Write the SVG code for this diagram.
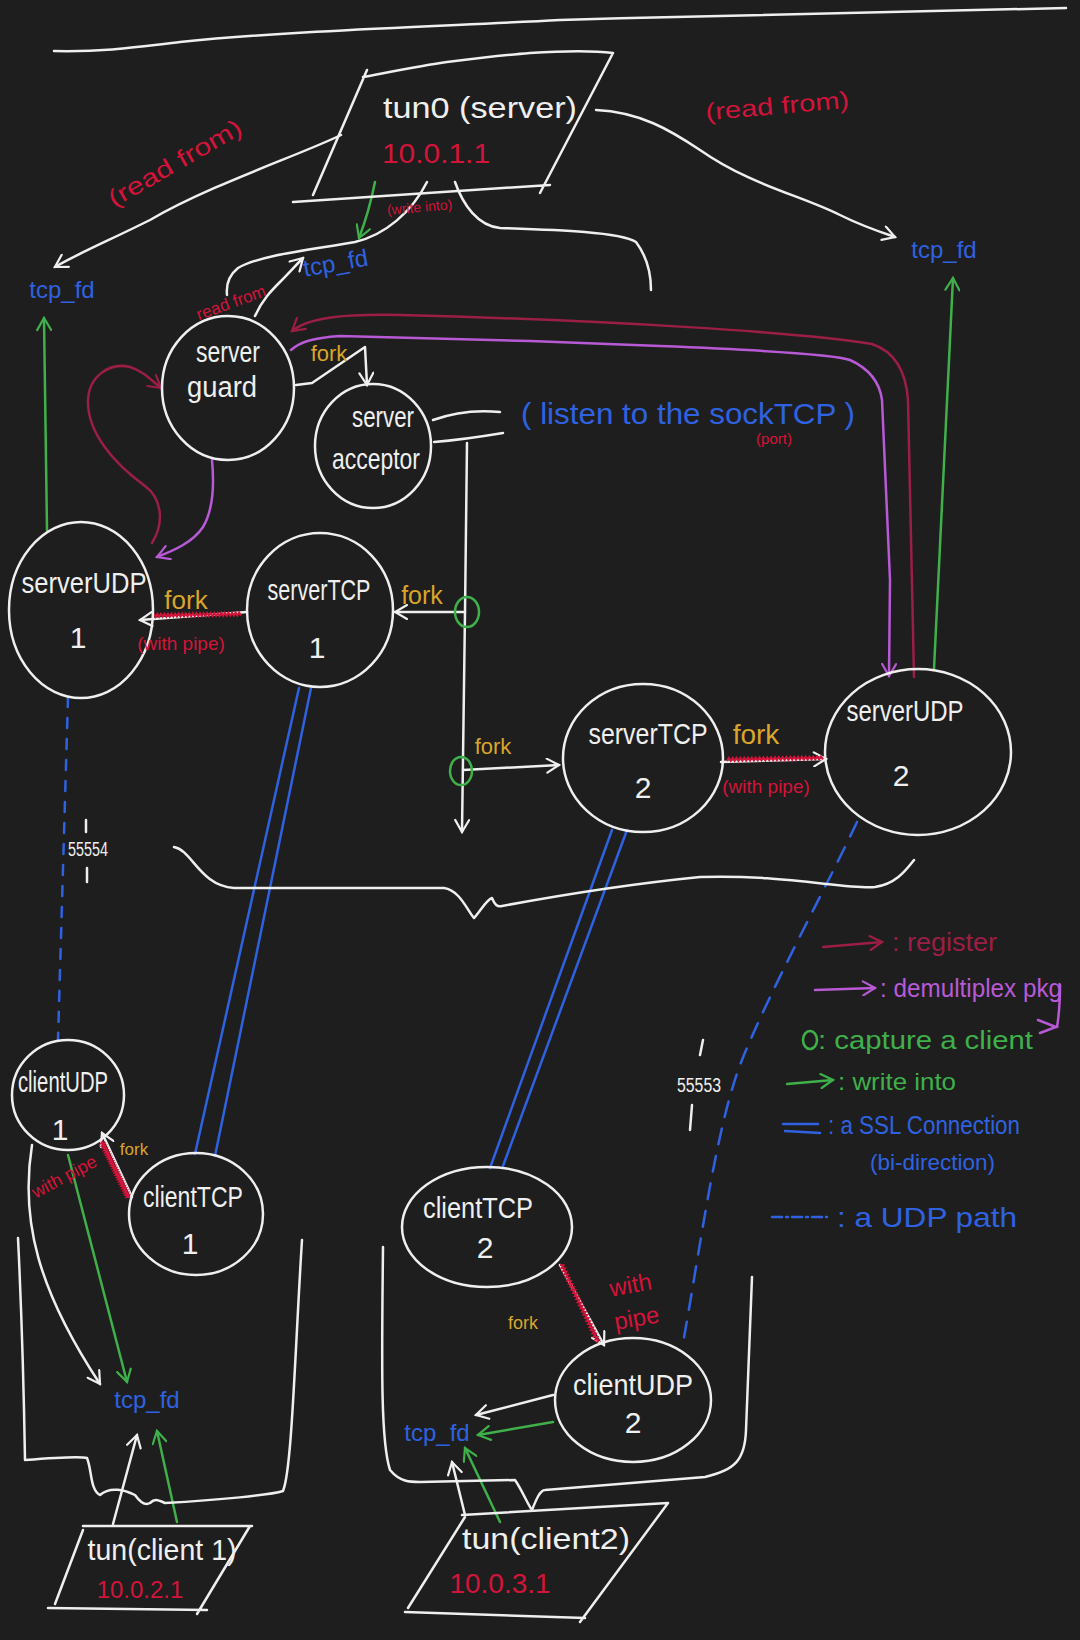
<svg xmlns="http://www.w3.org/2000/svg" width="1080" height="1640" viewBox="0 0 1080 1640">
<style>
.w{fill:none;stroke:#efefef;stroke-width:2.5;stroke-linecap:round;stroke-linejoin:round}
.node{fill:none;stroke:#efefef;stroke-width:2.5}
.t{font-family:"Liberation Sans",Arial,sans-serif}
.lbl{fill:#efefef;font-size:30px;text-anchor:middle}
.c{text-anchor:middle}
.red{fill:#d3143a}
.blue{fill:#2f62e0}
.gold{fill:#d9a52a}
.grn{fill:#3fb04a}
.mar{fill:#9b1e45}
.pur{fill:#b85ad6}
.wt{fill:#efefef}
.gl{fill:none;stroke:#3fb04a;stroke-width:2.5;stroke-linecap:round}
.pl{fill:none;stroke:#b85ad6;stroke-width:2.5;stroke-linecap:round}
.ml{fill:none;stroke:#9b1e45;stroke-width:2.5;stroke-linecap:round}
.bl{fill:none;stroke:#2f62e0;stroke-width:2.5;stroke-linecap:round}
.zz{fill:none;stroke:#d3143a;stroke-width:2;vector-effect:non-scaling-stroke}
</style>
<defs>
<marker id="aw" viewBox="0 0 16 16" refX="14" refY="8" markerWidth="16" markerHeight="16" orient="auto" markerUnits="userSpaceOnUse"><path d="M2,1 L14,8 L2,15" fill="none" stroke="#efefef" stroke-width="2.2" stroke-linecap="round"/></marker>
<marker id="ag" viewBox="0 0 16 16" refX="14" refY="8" markerWidth="16" markerHeight="16" orient="auto" markerUnits="userSpaceOnUse"><path d="M2,1 L14,8 L2,15" fill="none" stroke="#3fb04a" stroke-width="2.2" stroke-linecap="round"/></marker>
<marker id="ap" viewBox="0 0 16 16" refX="14" refY="8" markerWidth="16" markerHeight="16" orient="auto" markerUnits="userSpaceOnUse"><path d="M2,1 L14,8 L2,15" fill="none" stroke="#b85ad6" stroke-width="2.2" stroke-linecap="round"/></marker>
<marker id="am" viewBox="0 0 16 16" refX="14" refY="8" markerWidth="16" markerHeight="16" orient="auto" markerUnits="userSpaceOnUse"><path d="M2,1 L14,8 L2,15" fill="none" stroke="#9b1e45" stroke-width="2.2" stroke-linecap="round"/></marker>
<path id="zz" class="zz" d="M0 0 l2 -3 2 3 2 -3 2 3 2 -3 2 3 2 -3 2 3 2 -3 2 3 2 -3 2 3 2 -3 2 3 2 -3 2 3 2 -3 2 3 2 -3 2 3 2 -3 2 3 2 -3 2 3 2 -3 2 3 2 -3 2 3 2 -3 2 3 2 -3 2 3 2 -3 2 3 2 -3 2 3 2 -3 2 3 2 -3 2 3 2 -3 2 3 2 -3 2 3 2 -3 2 3 2 -3 2 3 2 -3 2 3"/>
</defs>
<rect x="0" y="0" width="1080" height="1640" fill="#1e1e1e"/>

<!-- top rule -->
<path class="w" d="M54,51 C100,52 130,48 180,42 C300,30 450,26 560,20 C750,14 950,12 1066,8"/>

<g id="connectors">
  <path class="w" d="M341,135 C300,155 210,185 150,220 C110,240 75,255 55,267" marker-end="url(#aw)"/>
  <path class="w" d="M596,110 C640,112 670,130 700,150 C750,185 800,195 840,215 C860,225 880,232 895,237" marker-end="url(#aw)"/>
  <path class="w" d="M427,182 C412,212 385,235 355,242 C310,250 260,255 238,268 C228,276 226,285 227,295"/>
  <path class="w" d="M255,316 C262,300 272,290 280,282 C290,272 296,265 303,258" marker-end="url(#aw)"/>
  <path class="gl" d="M375,182 Q369,212 359,238" marker-end="url(#ag)"/>
  <path class="w" d="M455,182 C463,205 478,226 500,228 C560,230 620,232 636,242 C648,258 651,275 651,290"/>
  <path class="w" d="M296,385 L312,383 L365,347 L367,385" marker-end="url(#aw)"/>
  <path class="w" d="M433,420 C455,412 480,410 500,412"/>
  <path class="w" d="M434,442 C460,440 485,436 503,433"/>
  <path class="w" d="M467,443 L465,612 L462,832" marker-end="url(#aw)"/>
  <path class="w" d="M465,612 L395,612" marker-end="url(#aw)"/>
  <path class="w" d="M463,770 L559,765" marker-end="url(#aw)"/>
  <path class="w" d="M247,612 L140,620" marker-end="url(#aw)"/>
  <use href="#zz" transform="translate(152,617) rotate(-1) scale(0.89 1)"/>
  <path class="w" d="M721,762 L826,759" marker-end="url(#aw)"/>
  <use href="#zz" transform="translate(727,761) rotate(-1) scale(0.96 1)"/>
  <ellipse cx="467" cy="612" rx="12" ry="15" class="gl"/>
  <ellipse cx="461" cy="771" rx="11" ry="14" class="gl"/>
  <path class="pl" d="M291,350 C300,342 312,338 340,336 L530,341 L660,346 C760,350 834,354 850,360 C872,370 880,385 882,400 L890,580 L889,676" marker-end="url(#ap)"/>
  <path class="pl" d="M212,460 C215,492 212,512 203,527 C193,542 175,550 157,557" marker-end="url(#ap)"/>
  <path class="ml" d="M914,677 L908,400 C906,372 896,352 872,344 C800,332 600,320 400,315 C340,314 308,318 292,331" marker-end="url(#am)"/>
  <path class="ml" d="M152,543 C166,520 160,497 145,486 C112,462 88,432 88,402 C88,376 110,362 130,367 C143,371 151,380 161,388" marker-end="url(#am)"/>
  <path class="gl" d="M47,530 L44,318" marker-end="url(#ag)"/>
  <path class="gl" d="M934,669 L953,278" marker-end="url(#ag)"/>
  <path class="bl" d="M299,688 L195,1154"/>
  <path class="bl" d="M311,688 L215,1156"/>
  <path class="bl" d="M612,830 L490,1168"/>
  <path class="bl" d="M627,830 L503,1166"/>
  <path class="bl" stroke-dasharray="10 11" d="M68,697 L58,1040"/>
  <path class="bl" stroke-dasharray="16 12" d="M857,822 C830,880 770,990 742,1060 C716,1125 700,1250 683,1343"/>
  <path class="w" d="M174,847 C192,850 200,886 234,888 L444,888 C460,890 468,912 474,918 C480,912 486,900 492,898 C495,905 497,907 502,906 C545,898 610,886 700,877 C780,874 850,890 875,887 C896,884 906,870 914,860"/>
  <path class="w" d="M86,820 L86,832 M87,868 L87,882 M703,1040 L700,1055 M692,1105 L690,1130"/>
  <path class="w" d="M132,1197 L102,1133" marker-end="url(#aw)"/>
  <use href="#zz" transform="translate(130,1197) rotate(-115.7) scale(0.62 1)"/>
  <path class="w" d="M32,1145 C20,1220 38,1290 100,1384" marker-end="url(#aw)"/>
  <path class="gl" d="M68,1155 L127,1382" marker-end="url(#ag)"/>
  <path class="w" d="M113,1524 L137,1435" marker-end="url(#aw)"/>
  <path class="gl" d="M177,1522 L157,1431" marker-end="url(#ag)"/>
  <path class="w" d="M18,1238 C22,1320 24,1400 25,1460 C50,1458 80,1456 87,1458 C92,1470 90,1490 100,1495 C110,1486 125,1490 135,1495 C140,1502 145,1506 150,1503 C155,1498 158,1500 165,1503 C220,1500 270,1495 283,1491 C292,1470 295,1350 302,1240"/>
  <path class="w" d="M560,1265 L604,1345" marker-end="url(#aw)"/>
  <use href="#zz" transform="translate(560,1265) rotate(64.6) scale(0.86 1)"/>
  <path class="w" d="M553,1395 L476,1415" marker-end="url(#aw)"/>
  <path class="gl" d="M553,1422 L478,1435" marker-end="url(#ag)"/>
  <path class="w" d="M465,1515 L452,1462" marker-end="url(#aw)"/>
  <path class="gl" d="M500,1522 L465,1448" marker-end="url(#ag)"/>
  <path class="w" d="M383,1247 C382,1350 380,1440 390,1470 C400,1482 410,1482 420,1482 L515,1480 C522,1490 528,1505 532,1510 C536,1500 540,1490 545,1490 L705,1477 C735,1470 745,1460 746,1430 L752,1277"/>
</g>

<g id="tun0">
  <path class="w" d="M363,77 C400,70 425,65 447,62 C480,58 505,55 530,53 C560,51 590,50 613,53 M367,70 L313,195 M613,53 L540,193 M293,202 C380,196 470,190 550,185"/>
  <text class="t lbl" x="480" y="118" font-size="32" textLength="194" lengthAdjust="spacingAndGlyphs">tun0 (server)</text>
  <text class="t red c" x="436" y="163" font-size="28" textLength="108" lengthAdjust="spacingAndGlyphs">10.0.1.1</text>
</g>
<g id="labels-top">
  <text class="t red c" font-size="24" transform="translate(179,170) rotate(-30)" textLength="150" lengthAdjust="spacingAndGlyphs">(read from)</text>
  <text class="t red c" font-size="24" transform="translate(778,114) rotate(-5)" textLength="144" lengthAdjust="spacingAndGlyphs">(read from)</text>
  <text class="t red c" font-size="14" transform="translate(420,212) rotate(-5)">(write into)</text>
  <text class="t red c" font-size="17" transform="translate(233,308) rotate(-20)">read from</text>
  <text class="t blue c" x="62" y="298" font-size="24">tcp_fd</text>
  <text class="t blue c" font-size="24" transform="translate(337,271) rotate(-10)">tcp_fd</text>
  <text class="t blue c" x="944" y="258" font-size="24">tcp_fd</text>
</g>

<g id="server-guard">
  <ellipse class="node" cx="228" cy="388" rx="66" ry="72"/>
  <text class="t lbl" x="228" y="362" font-size="28" textLength="64" lengthAdjust="spacingAndGlyphs">server</text>
  <text class="t lbl" x="222" y="397" font-size="28" textLength="70" lengthAdjust="spacingAndGlyphs">guard</text>
</g>
<text class="t gold c" x="329" y="361" font-size="22">fork</text>

<g id="server-acceptor">
  <ellipse class="node" cx="373" cy="446" rx="58" ry="62"/>
  <text class="t lbl" x="383" y="427" font-size="28" textLength="62" lengthAdjust="spacingAndGlyphs">server</text>
  <text class="t lbl" x="376" y="469" font-size="28" textLength="88" lengthAdjust="spacingAndGlyphs">acceptor</text>
</g>
<text class="t blue" x="521" y="424" font-size="30" textLength="334" lengthAdjust="spacingAndGlyphs">( listen to the sockTCP )</text>
<text class="t red c" x="774" y="444" font-size="15">(port)</text>

<g id="serverUDP1">
  <ellipse class="node" cx="81" cy="610" rx="72" ry="88"/>
  <text class="t lbl" x="84" y="593" font-size="30" textLength="125" lengthAdjust="spacingAndGlyphs">serverUDP</text>
  <text class="t lbl" x="78" y="648" font-size="30">1</text>
</g>
<g id="serverTCP1">
  <ellipse class="node" cx="320" cy="610" rx="73" ry="77"/>
  <text class="t lbl" x="319" y="600" font-size="30" textLength="103" lengthAdjust="spacingAndGlyphs">serverTCP</text>
  <text class="t lbl" x="317" y="658" font-size="30">1</text>
</g>
<text class="t gold c" x="186" y="609" font-size="26">fork</text>
<text class="t red c" x="181" y="650" font-size="19">(with pipe)</text>
<text class="t gold c" x="422" y="604" font-size="25">fork</text>
<text class="t gold c" x="493" y="754" font-size="22">fork</text>

<g id="serverTCP2">
  <ellipse class="node" cx="643" cy="758" rx="80" ry="74"/>
  <text class="t lbl" x="648" y="744" font-size="30" textLength="119" lengthAdjust="spacingAndGlyphs">serverTCP</text>
  <text class="t lbl" x="643" y="798" font-size="30">2</text>
</g>
<text class="t gold c" x="756" y="744" font-size="28">fork</text>
<text class="t red c" x="766" y="793" font-size="19">(with pipe)</text>

<g id="serverUDP2">
  <ellipse class="node" cx="918" cy="752" rx="93" ry="83"/>
  <text class="t lbl" x="905" y="721" font-size="30" textLength="117" lengthAdjust="spacingAndGlyphs">serverUDP</text>
  <text class="t lbl" x="901" y="786" font-size="30">2</text>
</g>

<text class="t wt c" x="88" y="856" font-size="20" textLength="40" lengthAdjust="spacingAndGlyphs">55554</text>
<text class="t wt c" x="699" y="1092" font-size="20" textLength="44" lengthAdjust="spacingAndGlyphs">55553</text>

<g id="legend">
  <path class="ml" d="M823,947 L882,942" marker-end="url(#am)"/>
  <text class="t mar" x="892" y="951" font-size="26" textLength="105" lengthAdjust="spacingAndGlyphs">: register</text>
  <path class="pl" d="M815,990 L875,988" marker-end="url(#ap)"/>
  <text class="t pur" x="880" y="997" font-size="26" textLength="182" lengthAdjust="spacingAndGlyphs">: demultiplex pkg</text>
  <path class="pl" d="M1060,985 C1060,1000 1059,1015 1057,1027 M1038,1020 L1056,1027 L1040,1033"/>
  <ellipse class="gl" cx="810" cy="1040" rx="7" ry="9"/>
  <text class="t grn" x="818" y="1049" font-size="26" textLength="215" lengthAdjust="spacingAndGlyphs">: capture a client</text>
  <path class="gl" d="M787,1084 L833,1080" marker-end="url(#ag)"/>
  <text class="t grn" x="838" y="1090" font-size="24" textLength="118" lengthAdjust="spacingAndGlyphs">: write into</text>
  <path class="bl" d="M783,1124 L818,1124 M785,1131 L820,1133"/>
  <text class="t blue" x="828" y="1134" font-size="26" textLength="192" lengthAdjust="spacingAndGlyphs">: a SSL Connection</text>
  <text class="t blue" x="870" y="1170" font-size="22" textLength="125" lengthAdjust="spacingAndGlyphs">(bi-direction)</text>
  <path class="bl" stroke-dasharray="10 4 2 4" d="M772,1217 L827,1217"/>
  <text class="t blue" x="837" y="1227" font-size="28" textLength="180" lengthAdjust="spacingAndGlyphs">: a UDP path</text>
</g>

<g id="clientUDP1">
  <ellipse class="node" cx="68" cy="1095" rx="56" ry="55"/>
  <text class="t lbl" x="63" y="1092" font-size="24" textLength="90" lengthAdjust="spacingAndGlyphs">clientUDP</text>
  <text class="t lbl" x="60" y="1140" font-size="26">1</text>
</g>
<g id="clientTCP1">
  <ellipse class="node" cx="196" cy="1214" rx="67" ry="61"/>
  <text class="t lbl" x="193" y="1207" font-size="28" textLength="100" lengthAdjust="spacingAndGlyphs">clientTCP</text>
  <text class="t lbl" x="190" y="1254" font-size="28">1</text>
</g>
<text class="t gold c" x="134" y="1155" font-size="17">fork</text>
<text class="t red c" font-size="18" transform="translate(67,1182) rotate(-28)">with pipe</text>
<text class="t blue c" x="147" y="1408" font-size="24">tcp_fd</text>
<g id="tun-client1">
  <path class="w" d="M83,1526 L252,1526 M250,1526 L197,1614 M48,1608 L207,1610 M83,1530 L55,1604"/>
  <text class="t lbl" x="162" y="1560" font-size="26" textLength="149" lengthAdjust="spacingAndGlyphs">tun(client 1)</text>
  <text class="t red c" x="140" y="1598" font-size="24">10.0.2.1</text>
</g>

<g id="clientTCP2">
  <ellipse class="node" cx="487" cy="1227" rx="85" ry="60"/>
  <text class="t lbl" x="478" y="1218" font-size="30" textLength="110" lengthAdjust="spacingAndGlyphs">clientTCP</text>
  <text class="t lbl" x="485" y="1258" font-size="30">2</text>
</g>
<g id="clientUDP2">
  <ellipse class="node" cx="633" cy="1400" rx="78" ry="62"/>
  <text class="t lbl" x="633" y="1395" font-size="28" textLength="120" lengthAdjust="spacingAndGlyphs">clientUDP</text>
  <text class="t lbl" x="633" y="1433" font-size="28">2</text>
</g>
<text class="t gold c" x="523" y="1329" font-size="18">fork</text>
<text class="t red c" font-size="24" transform="translate(632,1293) rotate(-10)">with</text>
<text class="t red c" font-size="24" transform="translate(638,1326) rotate(-10)">pipe</text>
<text class="t blue c" x="437" y="1441" font-size="24">tcp_fd</text>
<g id="tun-client2">
  <path class="w" d="M462,1515 L668,1503 M668,1503 L580,1622 M405,1612 L585,1618 M465,1517 L408,1608"/>
  <text class="t lbl" x="546" y="1549" font-size="26" textLength="168" lengthAdjust="spacingAndGlyphs">tun(client2)</text>
  <text class="t red c" x="500" y="1593" font-size="28">10.0.3.1</text>
</g>
</svg>
